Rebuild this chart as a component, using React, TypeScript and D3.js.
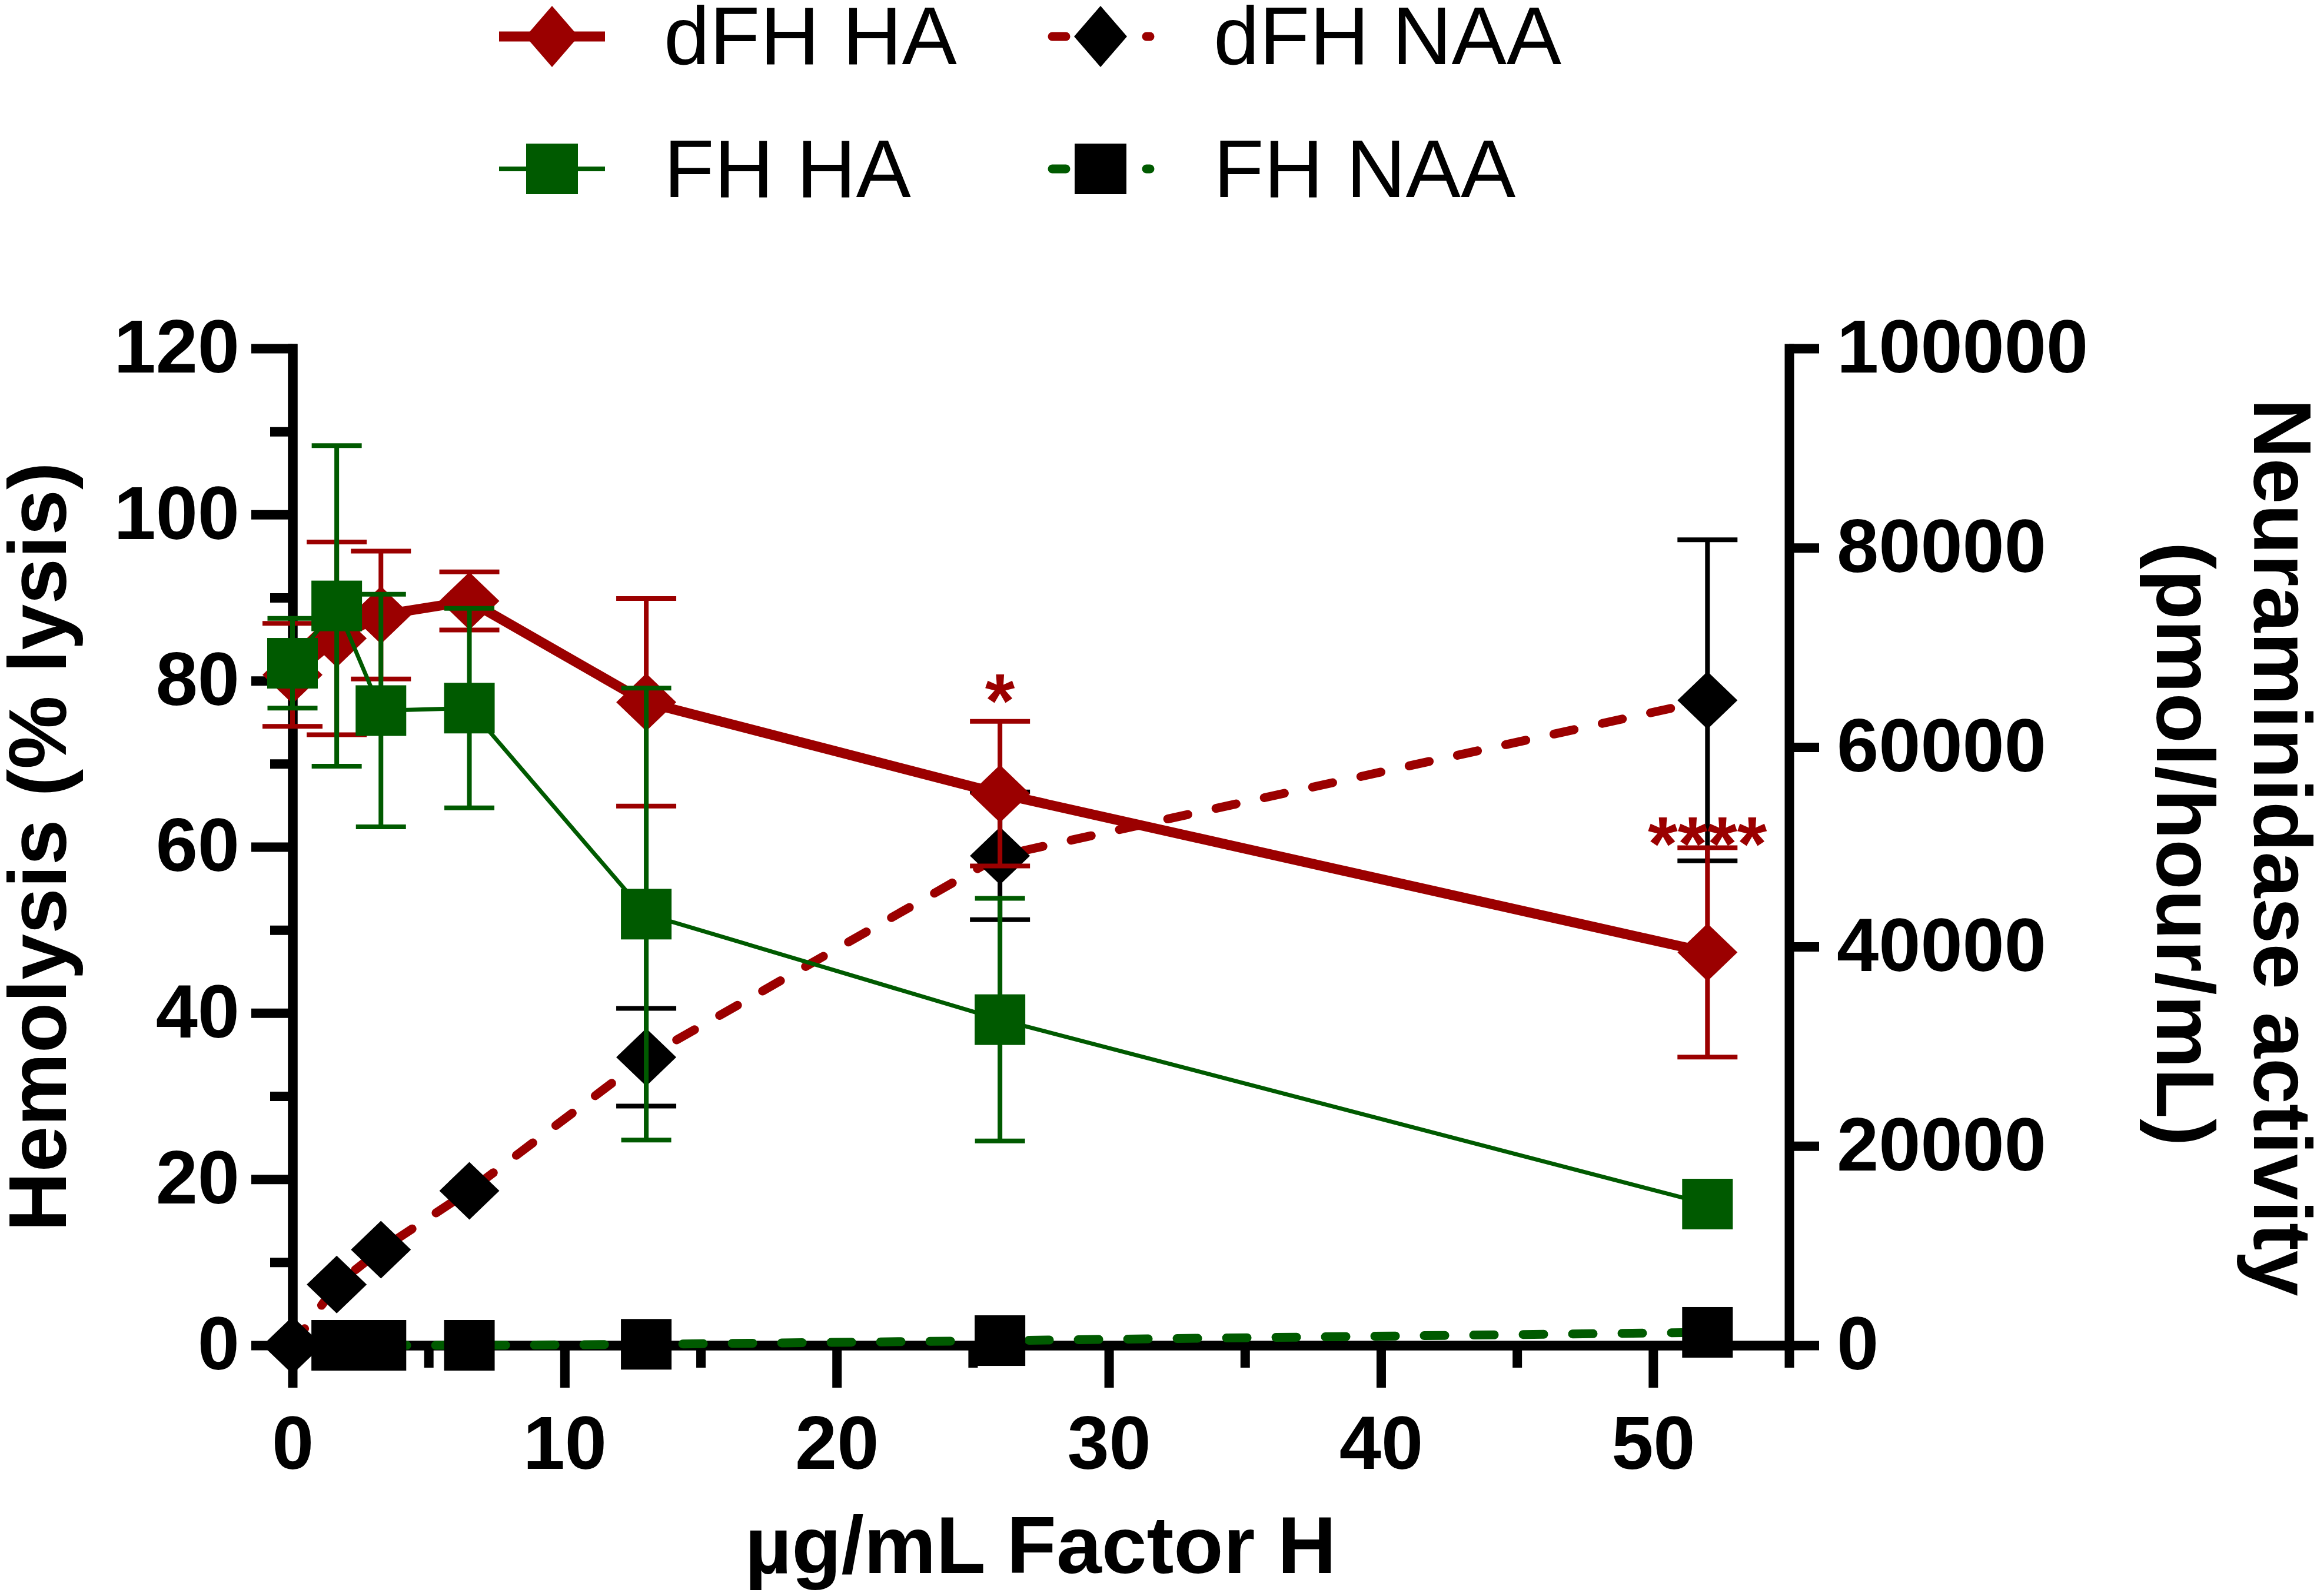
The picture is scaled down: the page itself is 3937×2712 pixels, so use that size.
import React, { useEffect, useRef } from "react";
import * as d3 from "d3";

// Factor H concentrations (µg/mL)
const concentrations = [0, 1.625, 3.25, 6.5, 13, 26, 52];

// Hemolysis (% lysis), left axis
const dfhHaMean = [80.7, 85.1, 87.9, 89.6, 77.4, 66.4, 47.3];
const dfhHaErr = [6.2, 11.6, 7.7, 3.5, 12.5, 8.7, 12.6];
const fhHaMean = [82.1, 89.0, 76.4, 76.7, 51.9, 39.2, 17.0];
const fhHaErr = [5.4, 19.3, 14.0, 12.0, 27.2, 14.6, 0];

// Neuraminidase activity (pmol/hour/mL), right axis
const dfhNaaMean = [0, 6100, 9600, 15500, 28900, 49100, 64700];
const dfhNaaErr = [0, 0, 0, 0, 4900, 6400, 16100];
// no FH NAA point at 0 µg/mL
const fhNaaMean: (number | null)[] = [null, 0, 0, 0, 100, 470, 1300];
const fhNaaErr = [0, 0, 0, 0, 0, 0, 0];

// significance marks (on the left axis scale)
const sigIndex = [5, 6];
const sigLevel = [79.6, 62.4];
const sigLabels = ["*", "****"];

const leftTicks = [0, 20, 40, 60, 80, 100, 120];
const leftMinor = [10, 30, 50, 70, 90, 110];
const rightTicks = [0, 20000, 40000, 60000, 80000, 100000];
const xTicks = [0, 10, 20, 30, 40, 50];
const xMinor = [5, 15, 25, 35, 45, 55];

const RED = "#9b0000";
const GREEN = "#005a00";
const FONT = "'Liberation Sans', Arial, Helvetica, sans-serif";
const DASH = "35,49";

const diamondPath = (w: number, h: number) =>
    `M0,${-h / 2}L${w / 2},0L0,${h / 2}L${-w / 2},0Z`;

type Pt = { c: number; m: number | null; e: number };

export default function App() {
    const svgRef = useRef<SVGSVGElement | null>(null);
    const width = 3937;
    const height = 2712;

    useEffect(() => {
        const svg = d3.select(svgRef.current);
        svg.selectAll("*").remove();

        const x = d3.scaleLinear().domain([0, 55]).range([497, 3040]);
        const yL = d3.scaleLinear().domain([0, 120]).range([2286, 592]);
        const yR = d3.scaleLinear().domain([0, 100000]).range([2286, 592]);

        const styleAxis = (g: any) => {
            g.select(".domain")
                .attr("stroke", "#000")
                .attr("stroke-width", 16)
                .attr("stroke-linecap", "square");
            g.selectAll(".tick line").attr("stroke", "#000").attr("stroke-width", 16);
            g.selectAll(".tick text")
                .attr("font-family", FONT)
                .attr("font-weight", "bold")
                .attr("font-size", 128)
                .attr("fill", "#000");
        };

        // left axis
        svg.append("g")
            .attr("transform", `translate(${x(0)},0)`)
            .call(d3.axisLeft(yL).tickValues(leftMinor).tickSize(38).tickSizeOuter(0).tickFormat(() => ""))
            .call(styleAxis);
        svg.append("g")
            .attr("transform", `translate(${x(0)},0)`)
            .call(d3.axisLeft(yL).tickValues(leftTicks).tickSize(70).tickSizeOuter(0).tickPadding(20))
            .call(styleAxis);

        // right axis
        svg.append("g")
            .attr("transform", `translate(${x(55)},0)`)
            .call(d3.axisRight(yR).tickValues(rightTicks).tickSize(51).tickSizeOuter(0).tickPadding(30).tickFormat(d3.format("d")))
            .call(styleAxis);

        // bottom axis
        svg.append("g")
            .attr("transform", `translate(0,${yL(0)})`)
            .call(d3.axisBottom(x).tickValues(xMinor).tickSize(38).tickSizeOuter(0).tickFormat(() => ""))
            .call(styleAxis);
        svg.append("g")
            .attr("transform", `translate(0,${yL(0)})`)
            .call(d3.axisBottom(x).tickValues(xTicks).tickSize(72).tickSizeOuter(0).tickPadding(47))
            .call(styleAxis);

        // axis titles
        svg.append("text")
            .attr("x", 1768).attr("y", 2673)
            .attr("text-anchor", "middle")
            .attr("font-family", FONT).attr("font-weight", "bold").attr("font-size", 138)
            .text("µg/mL Factor H");
        svg.append("text")
            .attr("transform", "translate(112,1439) rotate(-90)")
            .attr("text-anchor", "middle")
            .attr("font-family", FONT).attr("font-weight", "bold").attr("font-size", 140)
            .text("Hemolysis (% lysis)");
        svg.append("text")
            .attr("transform", "translate(3830,1440) rotate(90)")
            .attr("text-anchor", "middle")
            .attr("font-family", FONT).attr("font-weight", "bold").attr("font-size", 140)
            .text("Neuraminidase activity");
        svg.append("text")
            .attr("transform", "translate(3665,1434) rotate(90)")
            .attr("text-anchor", "middle")
            .attr("font-family", FONT).attr("font-weight", "bold").attr("font-size", 140)
            .text("(pmol/hour/mL)");

        type Opts = {
            means: (number | null)[];
            errs: number[];
            y: d3.ScaleLinear<number, number>;
            lineColor: string;
            lineWidth: number;
            dashed: boolean;
            markerColor: string;
            errColor: string;
            capW: number;
            shape: "diamond" | "square";
        };

        const drawSeries = (o: Opts) => {
            const g = svg.append("g");
            const all: Pt[] = concentrations.map((c, i) => ({ c, m: o.means[i], e: o.errs[i] }));
            const pts = all.filter((d) => d.m !== null) as { c: number; m: number; e: number }[];

            g.append("path")
                .datum(pts)
                .attr("fill", "none")
                .attr("stroke", o.lineColor)
                .attr("stroke-width", o.lineWidth)
                .attr("stroke-linecap", o.dashed ? "round" : "butt")
                .attr("stroke-linejoin", "round")
                .attr("stroke-dasharray", o.dashed ? DASH : null)
                .attr("d", d3.line<{ c: number; m: number }>()
                    .x((d) => x(d.c))
                    .y((d) => o.y(d.m)));

            const eb = g.append("g")
                .selectAll("g")
                .data(pts.filter((d) => d.e > 0))
                .join("g")
                .attr("stroke", o.errColor)
                .attr("stroke-width", 8);
            eb.append("line")
                .attr("x1", (d) => x(d.c)).attr("x2", (d) => x(d.c))
                .attr("y1", (d) => o.y(d.m + d.e)).attr("y2", (d) => o.y(d.m - d.e));
            eb.append("line")
                .attr("x1", (d) => x(d.c) - o.capW / 2).attr("x2", (d) => x(d.c) + o.capW / 2)
                .attr("y1", (d) => o.y(d.m + d.e)).attr("y2", (d) => o.y(d.m + d.e));
            eb.append("line")
                .attr("x1", (d) => x(d.c) - o.capW / 2).attr("x2", (d) => x(d.c) + o.capW / 2)
                .attr("y1", (d) => o.y(d.m - d.e)).attr("y2", (d) => o.y(d.m - d.e));

            if (o.shape === "diamond") {
                g.append("g").selectAll("path")
                    .data(pts)
                    .join("path")
                    .attr("transform", (d) => `translate(${x(d.c)},${o.y(d.m)})`)
                    .attr("d", diamondPath(102, 98))
                    .attr("fill", o.markerColor);
            } else {
                g.append("g").selectAll("rect")
                    .data(pts)
                    .join("rect")
                    .attr("x", (d) => x(d.c) - 43)
                    .attr("y", (d) => o.y(d.m) - 43)
                    .attr("width", 86)
                    .attr("height", 86)
                    .attr("fill", o.markerColor);
            }
        };

        drawSeries({ means: dfhNaaMean, errs: dfhNaaErr, y: yR, lineColor: RED, lineWidth: 15, dashed: true, markerColor: "#000", errColor: "#000", capW: 102, shape: "diamond" });
        drawSeries({ means: dfhHaMean, errs: dfhHaErr, y: yL, lineColor: RED, lineWidth: 17, dashed: false, markerColor: RED, errColor: RED, capW: 102, shape: "diamond" });
        drawSeries({ means: fhHaMean, errs: fhHaErr, y: yL, lineColor: GREEN, lineWidth: 7, dashed: false, markerColor: GREEN, errColor: GREEN, capW: 85, shape: "square" });
        drawSeries({ means: fhNaaMean, errs: fhNaaErr, y: yR, lineColor: GREEN, lineWidth: 15, dashed: true, markerColor: "#000", errColor: "#000", capW: 102, shape: "square" });

        // significance asterisks
        svg.append("g").selectAll("text")
            .data(sigIndex)
            .join("text")
            .attr("x", (i) => x(concentrations[i]))
            .attr("y", (_, k) => yL(sigLevel[k]) + 74)
            .attr("text-anchor", "middle")
            .attr("font-family", FONT)
            .attr("font-weight", "bold")
            .attr("font-size", 130)
            .attr("fill", RED)
            .text((_, k) => sigLabels[k]);

        // legend
        const lg = svg.append("g");
        const rows = [62, 287];
        const cols = [938, 1870];
        const legendDashes = (y: number, color: string) => {
            [[1788, 1811], [1948, 1954]].forEach(([a, b]) => {
                lg.append("line").attr("x1", a).attr("x2", b).attr("y1", y).attr("y2", y)
                    .attr("stroke", color).attr("stroke-width", 15).attr("stroke-linecap", "round");
            });
        };
        // dFH HA
        lg.append("line").attr("x1", 848).attr("x2", 1028).attr("y1", rows[0]).attr("y2", rows[0])
            .attr("stroke", RED).attr("stroke-width", 17);
        lg.append("path").attr("transform", `translate(${cols[0]},${rows[0]})`).attr("d", diamondPath(90, 104)).attr("fill", RED);
        // dFH NAA
        legendDashes(rows[0], RED);
        lg.append("path").attr("transform", `translate(${cols[1]},${rows[0]})`).attr("d", diamondPath(90, 104)).attr("fill", "#000");
        // FH HA
        lg.append("line").attr("x1", 848).attr("x2", 1028).attr("y1", rows[1]).attr("y2", rows[1])
            .attr("stroke", GREEN).attr("stroke-width", 8);
        lg.append("rect").attr("x", cols[0] - 44).attr("y", rows[1] - 43).attr("width", 88).attr("height", 86).attr("fill", GREEN);
        // FH NAA
        legendDashes(rows[1], GREEN);
        lg.append("rect").attr("x", cols[1] - 44).attr("y", rows[1] - 43).attr("width", 88).attr("height", 86).attr("fill", "#000");

        const legendText = [
            { x: 1128, y: 109, t: "dFH HA" },
            { x: 2062, y: 109, t: "dFH NAA" },
            { x: 1128, y: 335, t: "FH HA" },
            { x: 2062, y: 335, t: "FH NAA" },
        ];
        lg.selectAll("text")
            .data(legendText)
            .join("text")
            .attr("x", (d) => d.x)
            .attr("y", (d) => d.y)
            .attr("font-family", FONT)
            .attr("font-size", 140)
            .attr("fill", "#000")
            .text((d) => d.t);
    }, []);

    return (
        <svg
            ref={svgRef}
            width={width}
            height={height}
            style={{ position: "absolute", left: 0, top: 0, background: "#fff", display: "block" }}
        />
    );
}
